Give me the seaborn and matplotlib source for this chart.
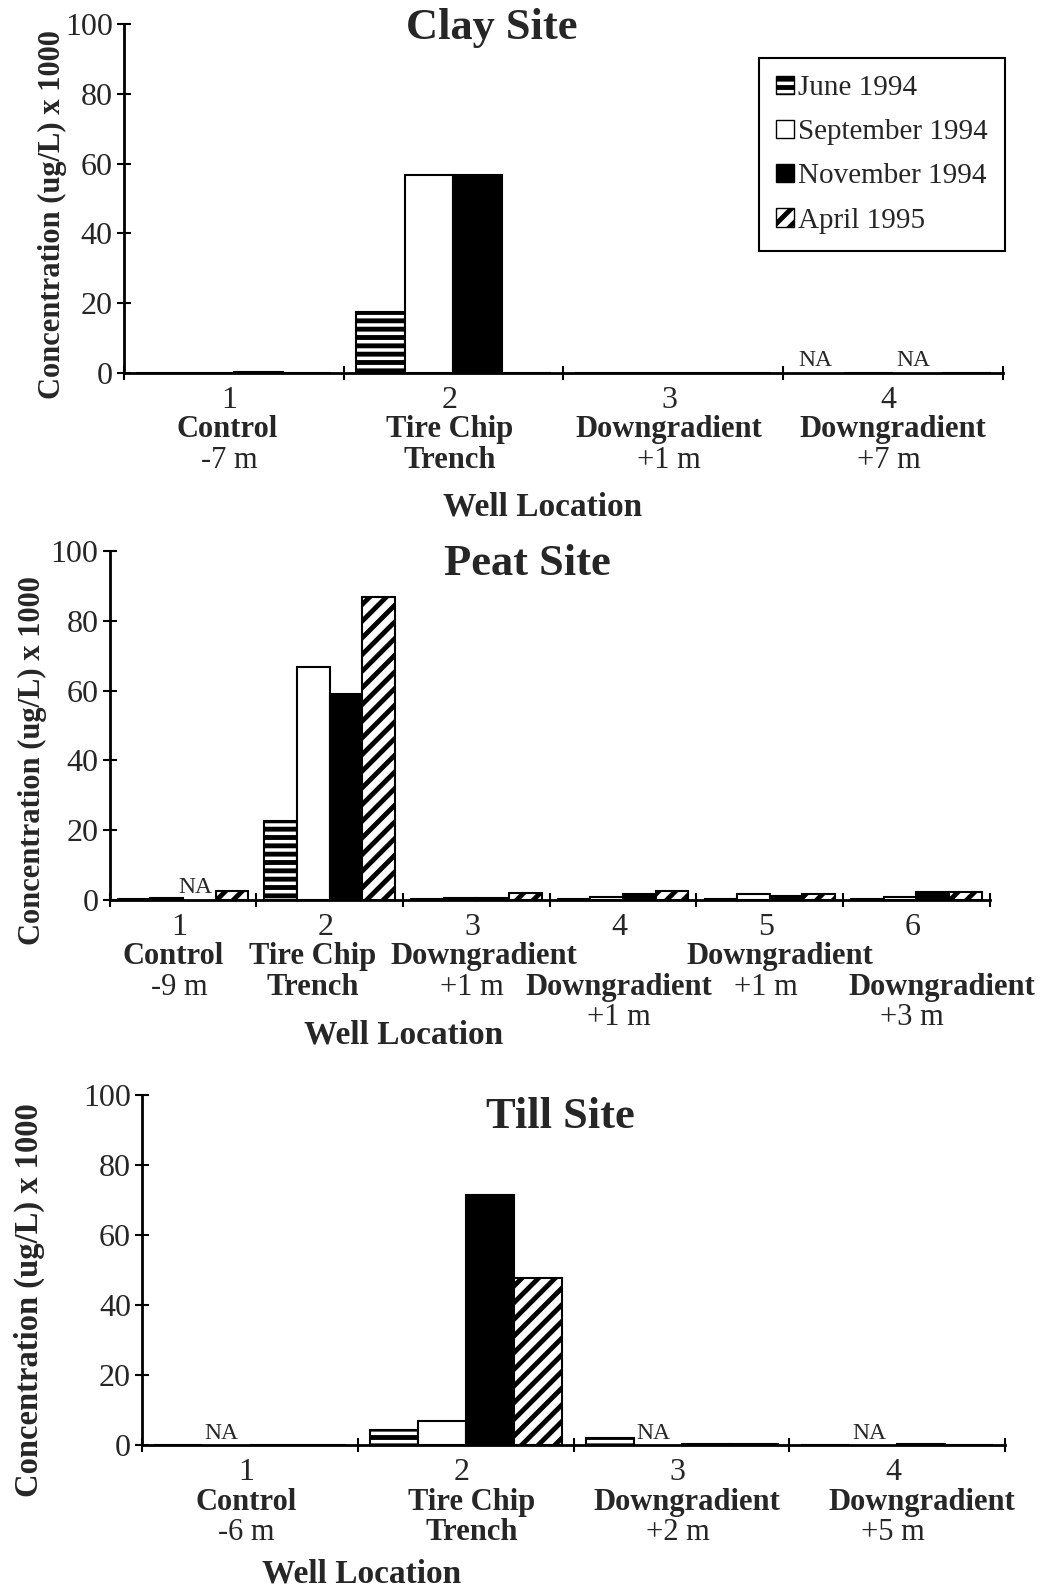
import numpy as np
import pandas as pd
import matplotlib
matplotlib.use("Agg")
import matplotlib.pyplot as plt
import seaborn as sns
from matplotlib.patches import Patch

nan = np.nan

dates = ["June 1994", "September 1994", "November 1994", "April 1995"]
date_colors = ["white", "white", "black", "white"]
date_hatches = ["--", "", "", "//"]

# Clay site
clay_wells = ["1", "2", "3", "4"]
clay_june = [0, 17.4, 0, nan]
clay_sept = [0, 56.8, 0, 0]
clay_nov = [0.3, 56.8, 0, nan]
clay_apr = [0, 0, 0, 0]
clay_line2 = ["Control", "Tire Chip", "Downgradient", "Downgradient"]
clay_line3 = ["-7 m", "Trench", "+1 m", "+7 m"]
clay_line4 = ["", "", "", ""]

# Peat site
peat_wells = ["1", "2", "3", "4", "5", "6"]
peat_june = [0.2, 22.6, 0.2, 0.2, 0.2, 0.2]
peat_sept = [0.5, 66.8, 0.5, 0.8, 1.5, 0.7]
peat_nov = [nan, 58.9, 0.5, 1.5, 1.0, 2.2]
peat_apr = [2.5, 86.9, 2.0, 2.5, 1.5, 2.2]
peat_line2 = ["Control", "Tire Chip", "Downgradient", "", "Downgradient", ""]
peat_line3 = ["-9 m", "Trench", "+1 m", "Downgradient", "+1 m", "Downgradient"]
peat_line4 = ["", "", "", "+1 m", "", "+3 m"]

# Till site
till_wells = ["1", "2", "3", "4"]
till_june = [0, 4.4, 2.0, 0]
till_sept = [nan, 6.9, nan, nan]
till_nov = [0, 71.5, 0.3, 0.3]
till_apr = [0, 47.6, 0.2, 0]
till_line2 = ["Control", "Tire Chip", "Downgradient", "Downgradient"]
till_line3 = ["-6 m", "Trench", "+2 m", "+5 m"]
till_line4 = ["", "", "", ""]

sns.set_style("ticks")
plt.rcParams["font.family"] = ["Liberation Serif", "DejaVu Serif"]
plt.rcParams["hatch.linewidth"] = 3.5
plt.rcParams["hatch.color"] = "black"

BAR_W = 0.89


def draw_site(ax, wells, series, lines, title, title_xy, xlabel_xy, ylabel_xy,
              ylabel_size=22, label_shift=None):
    n = len(wells)
    if label_shift is None:
        label_shift = [0] * n
    rows = []
    for j, d in enumerate(dates):
        for i, w in enumerate(wells):
            rows.append({"well": w, "date": d, "conc": series[j][i]})
    df = pd.DataFrame(rows)

    sns.barplot(data=df, x="well", y="conc", hue="date", order=wells, hue_order=dates,
                palette=date_colors, saturation=1, width=BAR_W, edgecolor="black",
                linewidth=1.5, errorbar=None, legend=False, ax=ax)
    for cont, h in zip(ax.containers, date_hatches):
        for p in cont:
            p.set_hatch(h)

    # NA markers
    for j, vals in enumerate(series):
        for i, v in enumerate(vals):
            if np.isnan(v):
                x = i + (j - 1.5) * BAR_W / 4
                ax.annotate("NA", xy=(x, 0), xytext=(-3, 1), textcoords="offset points",
                            ha="center", va="bottom", fontsize=17)

    ax.set_xlim(-0.5, n - 0.5)
    ax.set_ylim(0, 100)
    ax.set_yticks(range(0, 101, 20))
    ax.set_xticks(np.arange(n + 1) - 0.5)
    ax.set_xticklabels([])
    ax.tick_params(axis="both", direction="inout", length=10, width=1.5, color="black")
    ax.tick_params(axis="y", labelsize=23, pad=3)
    sns.despine(ax=ax)
    for s in ["left", "bottom"]:
        ax.spines[s].set_linewidth(2)
        ax.spines[s].set_color("black")

    # category labels: number, bold name, regular distance
    trans = ax.get_xaxis_transform()
    offsets = [-41, -63, -85]
    for i in range(n):
        ax.annotate(wells[i], xy=(i, 0), xycoords=trans, xytext=(-3, -20),
                    textcoords="offset points", ha="center", va="center", fontsize=23)
        for k, line in enumerate(lines):
            text = line[i]
            if text:
                is_dist = text.endswith(" m")
                dx = -3 if is_dist else label_shift[i]
                ax.annotate(text, xy=(i, 0), xycoords=trans, xytext=(dx, offsets[k]),
                            textcoords="offset points", ha="center", va="center",
                            fontsize=22, fontweight="normal" if is_dist else "bold")

    ax.text(title_xy[0], title_xy[1], title, transform=ax.transAxes, ha="center",
            va="center", fontsize=32, fontweight="bold")
    ax.text(xlabel_xy[0], xlabel_xy[1], "Well Location", transform=ax.transAxes,
            ha="center", va="center", fontsize=24, fontweight="bold")
    ax.set_xlabel("")
    ax.set_ylabel("Concentration (ug/L) x 1000", fontsize=ylabel_size, fontweight="bold")
    ax.yaxis.set_label_coords(ylabel_xy[0], ylabel_xy[1])


fig = plt.figure(figsize=(10.49, 15.92), dpi=100)
ax1 = fig.add_axes([0.118, 0.7659, 0.838, 0.2188])
ax2 = fig.add_axes([0.1046, 0.4349, 0.839, 0.2188])
ax3 = fig.add_axes([0.1355, 0.0923, 0.8228, 0.2201])

draw_site(ax1, clay_wells, [clay_june, clay_sept, clay_nov, clay_apr],
          [clay_line2, clay_line3, clay_line4], "Clay Site",
          (0.419, 0.99), (0.476, -0.385), (-0.065, 0.455),
          label_shift=[-5, -3, -3, 0])
draw_site(ax2, peat_wells, [peat_june, peat_sept, peat_nov, peat_apr],
          [peat_line2, peat_line3, peat_line4], "Peat Site",
          (0.474, 0.965), (0.334, -0.39), (-0.071, 0.40),
          label_shift=[-7, -12, 5, -3, 7, 18])
draw_site(ax3, till_wells, [till_june, till_sept, till_nov, till_apr],
          [till_line2, till_line3, till_line4], "Till Site",
          (0.485, 0.936), (0.254, -0.368), (-0.113, 0.414), ylabel_size=23.5,
          label_shift=[-3, 4, 4, 18])

handles = [Patch(facecolor=c, edgecolor="black", hatch=h, label=d)
           for d, c, h in zip(dates, date_colors, date_hatches)]
leg = ax1.legend(handles=handles, loc="upper right", bbox_to_anchor=(1.003, 0.904),
                 fontsize=21, frameon=True, fancybox=False, edgecolor="black",
                 framealpha=1, handlelength=0.6, handleheight=0.6, handletextpad=0.15,
                 labelspacing=0.62, borderpad=0.6, borderaxespad=0)
leg.get_frame().set_linewidth(1.5)

fig.savefig("out.png", dpi=100)
